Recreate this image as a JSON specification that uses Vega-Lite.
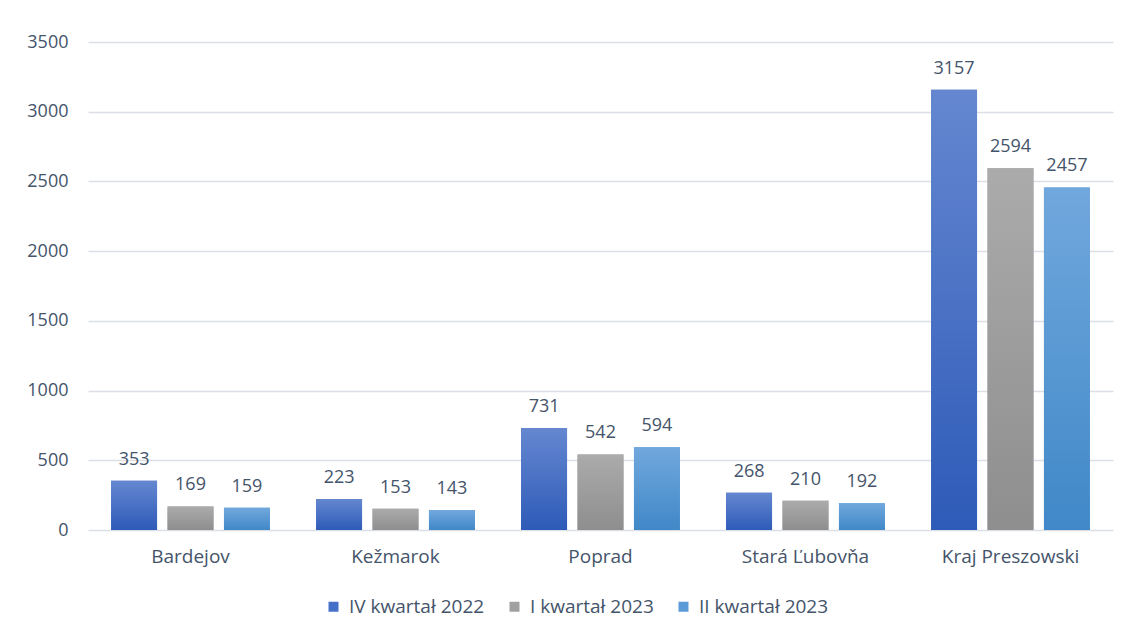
{
  "$schema": "https://vega.github.io/schema/vega-lite/v6.json",
  "width": 1025,
  "height": 488,
  "autosize": {"type": "none"},
  "padding": {"left": 88, "top": 42, "right": 17, "bottom": 105},
  "background": "white",
  "config": {
    "font": "Open Sans",
    "view": {"stroke": null},
    "axis": {"labelFont": "Open Sans", "labelFontSize": 18, "labelColor": "#44546A", "titleFont": "Open Sans"},
    "legend": {"labelFont": "Open Sans", "labelFontSize": 19, "labelColor": "#44546A"}
  },
  "data": {
    "values": [
      {"region": "Bardejov", "series": "IV kwartał 2022", "value": 353},
      {"region": "Bardejov", "series": "I kwartał 2023", "value": 169},
      {"region": "Bardejov", "series": "II kwartał 2023", "value": 159},
      {"region": "Kežmarok", "series": "IV kwartał 2022", "value": 223},
      {"region": "Kežmarok", "series": "I kwartał 2023", "value": 153},
      {"region": "Kežmarok", "series": "II kwartał 2023", "value": 143},
      {"region": "Poprad", "series": "IV kwartał 2022", "value": 731},
      {"region": "Poprad", "series": "I kwartał 2023", "value": 542},
      {"region": "Poprad", "series": "II kwartał 2023", "value": 594},
      {"region": "Stará Ľubovňa", "series": "IV kwartał 2022", "value": 268},
      {"region": "Stará Ľubovňa", "series": "I kwartał 2023", "value": 210},
      {"region": "Stará Ľubovňa", "series": "II kwartał 2023", "value": 192},
      {"region": "Kraj Preszowski", "series": "IV kwartał 2022", "value": 3157},
      {"region": "Kraj Preszowski", "series": "I kwartał 2023", "value": 2594},
      {"region": "Kraj Preszowski", "series": "II kwartał 2023", "value": 2457}
    ]
  },
  "encoding": {
    "x": {
      "field": "region", "type": "nominal", "sort": null,
      "scale": {"paddingInner": 0.2255, "paddingOuter": 0.1128},
      "axis": {"title": null, "labelAngle": 0, "labelFontSize": 19, "domain": false, "ticks": false, "labelPadding": 17, "grid": false}
    },
    "xOffset": {
      "field": "series", "type": "nominal",
      "sort": ["IV kwartał 2022", "I kwartał 2023", "II kwartał 2023"],
      "scale": {"paddingInner": 0.186, "paddingOuter": 0}
    },
    "y": {
      "field": "value", "type": "quantitative",
      "scale": {"domain": [0, 3500], "nice": false},
      "axis": {"title": null, "format": "d", "values": [0, 500, 1000, 1500, 2000, 2500, 3000, 3500], "domain": false, "ticks": false, "labelPadding": 20, "gridColor": "#DCE0E6", "gridWidth": 1.5}
    }
  },
  "layer": [
    {
      "mark": {"type": "bar"},
      "encoding": {
        "color": {
          "field": "series", "type": "nominal",
          "sort": ["IV kwartał 2022", "I kwartał 2023", "II kwartał 2023"],
          "scale": {"domain": ["IV kwartał 2022", "I kwartał 2023", "II kwartał 2023"], "range": ["#4570C8", "#A0A0A0", "#5A9AD6"]},
          "legend": {"title": null, "orient": "none", "legendX": 236, "legendY": 555, "direction": "horizontal", "symbolType": "square", "symbolSize": 100, "symbolStrokeWidth": 0, "labelOffset": 6, "columnPadding": 20}
        }
      }
    },
    {
      "mark": {"type": "bar"},
      "encoding": {
        "color": {
          "condition": [
            {"test": "datum.series === 'IV kwartał 2022'", "value": {"gradient": "linear", "x1": 0, "y1": 0, "x2": 0, "y2": 1, "stops": [{"offset": 0, "color": "#6587D0"}, {"offset": 1, "color": "#2E5BB8"}]}},
            {"test": "datum.series === 'I kwartał 2023'", "value": {"gradient": "linear", "x1": 0, "y1": 0, "x2": 0, "y2": 1, "stops": [{"offset": 0, "color": "#ABABAB"}, {"offset": 1, "color": "#8E8E8E"}]}}
          ],
          "value": {"gradient": "linear", "x1": 0, "y1": 0, "x2": 0, "y2": 1, "stops": [{"offset": 0, "color": "#71A8DD"}, {"offset": 1, "color": "#4088C8"}]}
        }
      }
    },
    {
      "mark": {"type": "text", "baseline": "alphabetic", "dy": -16, "fontSize": 18, "color": "#44546A", "font": "Open Sans"},
      "encoding": {
        "text": {"field": "value", "type": "quantitative"}
      }
    }
  ]
}
